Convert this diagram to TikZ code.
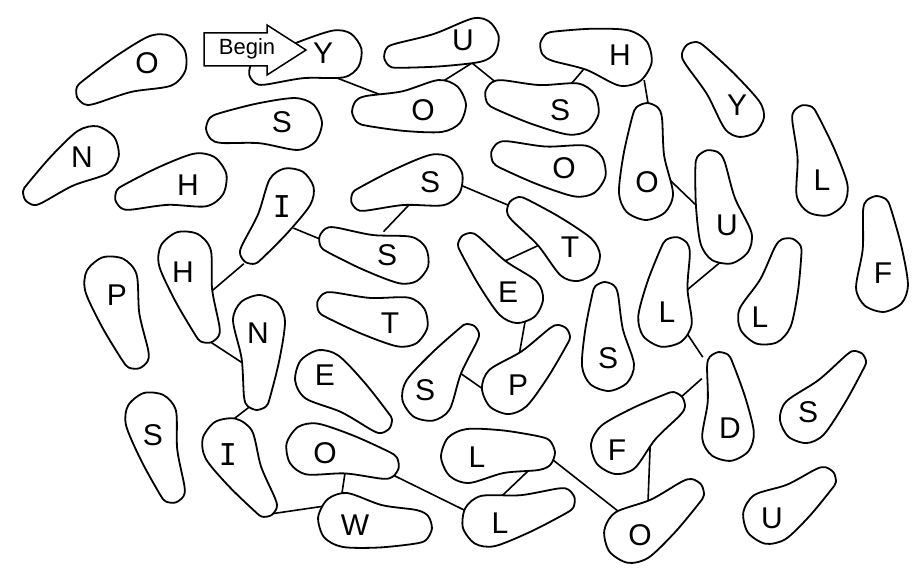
\documentclass[tikz,border=0pt]{standalone}
\usepackage{fontspec}
\setmainfont{Liberation Sans}
\newfontfamily\barfont{DejaVu Sans Mono}
\usetikzlibrary{positioning}

% bean: small lobe centre (#1,#2), radius #3; big lobe centre (#4,#5), radius #6; #7 = side of the waist
\newcommand{\bean}[7]{%
  \pgfmathsetmacro{\bd}{veclen(#4-#1,#5-#2)}%
  \pgfmathsetmacro{\ba}{atan2(#5-#2,#4-#1)}%
  \begin{scope}[shift={(#1,#2)}, rotate={-1*(\ba)}, yscale=#7]
    \path[blob] plot[smooth cycle] coordinates {
      ({\bd+#6},0) ({\bd+0.71*#6},{0.71*#6}) (\bd,#6) ({0.5*\bd},{0.55*(#3+#6)})
      (0,#3) ({-0.71*#3},{0.71*#3}) (-#3,0) ({-0.71*#3},{-0.71*#3}) (0,-#3)
      ({0.5*\bd},{-0.42*(#3+#6)}) (\bd,-#6) ({\bd+0.71*#6},{-0.71*#6})};
  \end{scope}}

\begin{document}
\begin{tikzpicture}[x=1pt, y=-1pt, every node/.style={font=\fontsize{30}{30}\selectfont, inner sep=0pt}]
\tikzstyle{blob}=[draw, line width=1.8pt, fill=white, line join=round]
\tikzstyle{link}=[line width=1.6pt, shorten <=-5pt, shorten >=-5pt]
\tikzstyle{arrowbox}=[draw, line width=1.5pt, fill=white, line join=miter]
\useasboundingbox (0,0) rectangle (920,572);

\coordinate (y-o1) at (337,78);   \coordinate (o1-y) at (381,95);
\coordinate (o1-u1) at (445,80);  \coordinate (u1-o1) at (472,63);
\coordinate (u1-s1) at (472,63);  \coordinate (s1-u1) at (493,80);
\coordinate (s1-h1) at (572,83);  \coordinate (h1-s1) at (583,70);
\coordinate (h1-o2) at (645,85);  \coordinate (o2-h1) at (648,103);
\coordinate (o2-u2) at (673,183); \coordinate (u2-o2) at (698,207);
\coordinate (u2-l1) at (717,265); \coordinate (l1-u2) at (687,290);
\coordinate (l1-d) at (688,335);  \coordinate (d-l1) at (700,353);
\coordinate (d-f1) at (698,382);  \coordinate (f1-d) at (680,398);
\coordinate (f1-o3) at (650,450); \coordinate (o3-f1) at (648,502);
\coordinate (o3-l2) at (623,515); \coordinate (l2-o3) at (553,460);
\coordinate (l2-l3) at (527,472); \coordinate (l3-l2) at (505,493);
\coordinate (l3-o4) at (460,508); \coordinate (o4-l3) at (397,477);
\coordinate (o4-w) at (345,473);  \coordinate (w-o4) at (342,493);
\coordinate (w-i1) at (318,507);  \coordinate (i1-w) at (277,513);
\coordinate (i1-n1) at (235,418); \coordinate (n1-i1) at (248,408);
\coordinate (n1-h2) at (238,360); \coordinate (h2-n1) at (212,343);
\coordinate (h2-i2) at (213,290); \coordinate (i2-h2) at (240,267);
\coordinate (i2-s2) at (298,230); \coordinate (s2-i2) at (315,237);
\coordinate (s2-s3) at (387,228); \coordinate (s3-s2) at (407,207);
\coordinate (s3-t1) at (465,187); \coordinate (t1-s3) at (503,203);
\coordinate (t1-e1) at (535,247); \coordinate (e1-t1) at (507,260);
\coordinate (e1-p1) at (525,322); \coordinate (p1-e1) at (520,350);
\coordinate (p1-s4) at (480,387); \coordinate (s4-p1) at (460,373);

\draw[link] (y-o1) -- (o1-y);
\draw[link] (o1-u1) -- (u1-o1);
\draw[link] (u1-s1) -- (s1-u1);
\draw[link] (s1-h1) -- (h1-s1);
\draw[link] (h1-o2) -- (o2-h1);
\draw[link] (o2-u2) -- (u2-o2);
\draw[link] (u2-l1) -- (l1-u2);
\draw[link] (l1-d) -- (d-l1);
\draw[link] (d-f1) -- (f1-d);
\draw[link] (f1-o3) -- (o3-f1);
\draw[link] (o3-l2) -- (l2-o3);
\draw[link] (l2-l3) -- (l3-l2);
\draw[link] (l3-o4) -- (o4-l3);
\draw[link] (o4-w) -- (w-o4);
\draw[link] (w-i1) -- (i1-w);
\draw[link] (i1-n1) -- (n1-i1);
\draw[link] (n1-h2) -- (h2-n1);
\draw[link] (h2-i2) -- (i2-h2);
\draw[link] (i2-s2) -- (s2-i2);
\draw[link] (s2-s3) -- (s3-s2);
\draw[link] (s3-t1) -- (t1-s3);
\draw[link] (t1-e1) -- (e1-t1);
\draw[link] (e1-p1) -- (p1-e1);
\draw[link] (p1-s4) -- (s4-p1);

\bean{89}{92}{13}{160}{61}{27}{-1}
\bean{262}{72}{13}{338}{54}{24}{-1}
\bean{396}{56}{12}{477}{40}{22}{1}
\bean{367}{111}{15}{440}{106}{26}{1}
\bean{221}{128}{15}{296}{124}{26}{-1}
\bean{500}{95}{15}{573}{109}{26}{1}
\bean{555}{46}{15}{624}{58}{28}{-1}
\bean{695}{55}{13}{742}{115}{22}{-1}
\bean{805}{118}{13}{822}{190}{26}{-1}
\bean{877}{210}{14}{882}{286}{26}{-1}
\bean{647}{118}{15}{646}{193}{27}{1}
\bean{505}{155}{14}{580}{171}{26}{1}
\bean{710}{165}{15}{726}{238}{26}{1}
\bean{35}{193}{12}{93}{152}{26}{-1}
\bean{128}{197}{13}{200}{180}{27}{-1}
\bean{252}{252}{12}{290}{192}{24}{1}
\bean{363}{199}{12}{437}{180}{26}{-1}
\bean{332}{240}{13}{405}{260}{24}{1}
\bean{520}{210}{13}{576}{257}{24}{-1}
\bean{470}{245}{12}{518}{298}{25}{1}
\bean{207}{330}{13}{185}{258}{27}{-1}
\bean{135}{355}{14}{111}{283}{27}{-1}
\bean{257}{397}{13}{259}{321}{26}{1}
\bean{330}{305}{13}{403}{322}{25}{1}
\bean{380}{421}{12}{322}{377}{27}{1}
\bean{468}{335}{11}{428}{395}{26}{1}
\bean{558}{337}{12}{508}{388}{26}{-1}
\bean{605}{295}{13}{608}{365}{26}{1}
\bean{675}{252}{15}{665}{320}{27}{1}
\bean{788}{252}{14}{765}{318}{27}{-1}
\bean{720}{365}{13}{728}{435}{26}{-1}
\bean{855}{362}{11}{805}{418}{25}{-1}
\bean{672}{405}{13}{618}{447}{27}{1}
\bean{823}{480}{13}{770}{517}{27}{-1}
\bean{690}{493}{14}{632}{535}{28}{-1}
\bean{538}{453}{17}{468}{456}{27}{1}
\bean{562}{501}{13}{488}{521}{26}{-1}
\bean{385}{465}{14}{312}{449}{26}{1}
\bean{415}{527}{17}{345}{520}{27}{-1}
\bean{265}{505}{12}{229}{445}{27}{-1}
\bean{172}{490}{13}{151}{418}{26}{-1}

\node (o5) at (147,63) {O};
\node (y) at (323,53) {Y};
\node (u1) at (463,40) {U};
\node (o1) at (423,110) {O};
\node (s5) at (282,122) {S};
\node (s1) at (560,110) {S};
\node (h1) at (620,55) {H};
\node (y2) at (737,105) {Y};
\node (l4) at (822,180) {L};
\node (f2) at (883,273) {F};
\node (o2) at (647,182) {O};
\node (o6) at (564,168) {O};
\node (u2) at (727,225) {U};
\node (n2) at (82,157) {N};
\node (h3) at (188,185) {H};
\node (i2) at (282,207) {\barfont I};
\node (s3) at (430,182) {S};
\node (s2) at (387,255) {S};
\node (t1) at (570,247) {T};
\node (e1) at (508,292) {E};
\node (h2) at (183,272) {H};
\node (p2) at (117,295) {P};
\node (n1) at (258,333) {N};
\node (t2) at (390,323) {T};
\node (e2) at (325,375) {E};
\node (s4) at (425,390) {S};
\node (p1) at (518,385) {P};
\node (s6) at (608,358) {S};
\node (l1) at (667,312) {L};
\node (l5) at (760,317) {L};
\node (d) at (730,428) {D};
\node (s7) at (808,412) {S};
\node (f1) at (617,450) {F};
\node (u3) at (772,518) {U};
\node (o3) at (640,535) {O};
\node (l2) at (477,457) {L};
\node (l3) at (500,523) {L};
\node (o4) at (325,453) {O};
\node (w) at (355,525) {W};
\node (i1) at (228,455) {\barfont I};
\node (s8) at (153,435) {S};

\draw[arrowbox] (204,33) -- (267,33) -- (267,25) -- (306,50) -- (267,75) -- (267,66) -- (204,66) -- cycle;
\node[anchor=base, font=\fontsize{22}{22}\selectfont] (begin) at (247,55) {Begin};
\end{tikzpicture}
\end{document}
